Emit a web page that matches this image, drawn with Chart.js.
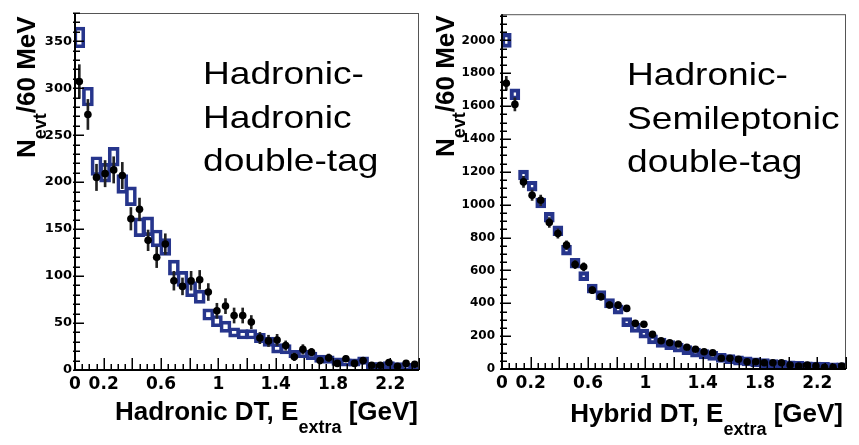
<!DOCTYPE html>
<html>
<head>
<meta charset="utf-8">
<script src="https://cdn.jsdelivr.net/npm/chart.js@4.4.1/dist/chart.umd.min.js"></script>
<style>
  html, body { margin: 0; padding: 0; background: #fff; }
  #page { position: relative; width: 859px; height: 445px; overflow: hidden; }
  canvas { position: absolute; top: 0; }
  .ann { position: absolute; font-family: 'Liberation Sans', Arial, sans-serif; font-size: 32px;
         line-height: 43.5px; white-space: pre; color: #000; transform: scaleX(1.16); transform-origin: 0 0; }
  .xt { position: absolute; font: bold 26px 'Liberation Sans', Arial, sans-serif; line-height: 26px;
        white-space: nowrap; color: #000; text-align: right; }
  .yt { position: absolute; font: bold 26px 'Liberation Sans', Arial, sans-serif; line-height: 26px;
        white-space: nowrap; color: #000; transform: rotate(-90deg); transform-origin: 0 0; }
  .sub { position: relative; font-size: 18px; }
</style>
</head>
<body>
<div id="page">
  <canvas id="hadChart" width="430" height="445" style="left:0"></canvas>
  <canvas id="hybChart" width="429" height="445" style="left:430px"></canvas>

  <div class="ann" style="left:203px; top:52px">Hadronic-
Hadronic
double-tag</div>
  <div class="ann" style="left:627px; top:53px">Hadronic-
Semileptonic
double-tag</div>

  <div class="xt" style="right:441px; top:398px">Hadronic DT, E<span class="sub" style="top:13px">extra</span> [GeV]</div>
  <div class="xt" style="right:16px; top:400px">Hybrid DT, E<span class="sub" style="top:13px">extra</span> [GeV]</div>

  <div class="yt" style="left:13px; top:158px">N<span class="sub" style="top:11px">evt</span>/60 MeV</div>
  <div class="yt" style="left:432px; top:157px">N<span class="sub" style="top:11px">evt</span>/60 MeV</div>
</div>

<script>
// E_extra bin centres (60 MeV bins)
const binCenters = [0.03, 0.09, 0.15, 0.21, 0.27, 0.33, 0.39, 0.45, 0.51, 0.57,
                    0.63, 0.69, 0.75, 0.81, 0.87, 0.93, 0.99, 1.05, 1.11, 1.17,
                    1.23, 1.29, 1.35, 1.41, 1.47, 1.53, 1.59, 1.65, 1.71, 1.77,
                    1.83, 1.89, 1.95, 2.01, 2.07, 2.13, 2.19, 2.25, 2.31, 2.37];

// hadronic-hadronic double tag
const hadData    = [307, 272, 205, 209, 213, 207, 161, 171, 138, 120, 134, 95, 89, 95, 96, 83, 63, 68, 58, 58,
                    51, 34, 31, 32, 26, 14, 22, 19, 10, 13, 7, 12, 7, 10, 5, 5, 8, 4, 7, 6];
const hadDataErr = [18, 16, 14, 14, 14, 14, 12, 12, 11, 11, 11, 10, 9, 10, 10, 9, 8, 8, 8, 8,
                    7, 6, 6, 6, 5, 4, 5, 4, 3, 4, 3, 3, 3, 3, 2, 2, 3, 2, 3, 2];
const hadMC      = [354, 291, 217, 210, 227, 198, 185, 152, 153, 140, 131, 109, 97, 86, 78, 59, 52, 46, 40, 38,
                    38, 34, 30, 23, 22, 17, 17, 15, 12, 11, 9, 8, 8, 10, 4, 4, 5, 4, 3, 3];
const hadMCErr   = [11, 10, 10, 10, 10, 10, 10, 10, 10, 9, 9, 8, 8, 8, 7, 6, 6, 6, 5, 5,
                    5, 5, 5, 5, 5, 4, 4, 4, 4, 4, 4, 4, 4, 4, 4, 4, 4, 4, 4, 4];

// hadronic-semileptonic (hybrid) double tag
const hybData    = [1740, 1611, 1139, 1058, 1027, 892, 825, 754, 636, 622, 480, 440, 390, 389, 369, 278, 272, 211, 172, 160,
                    152, 132, 120, 105, 99, 65, 65, 59, 44, 44, 38, 38, 38, 24, 18, 24, 18, 10, 10, 18];
const hybDataErr = [42, 40, 34, 32, 32, 30, 29, 27, 25, 25, 22, 21, 20, 20, 19, 17, 16, 15, 13, 13,
                    12, 11, 11, 10, 10, 8, 8, 8, 7, 7, 6, 6, 6, 5, 4, 5, 4, 3, 3, 4];
const hybMC      = [2000, 1673, 1181, 1113, 1010, 924, 842, 723, 644, 565, 489, 450, 400, 362, 285, 250, 215, 180, 160, 145,
                    130, 115, 100, 90, 80, 68, 60, 52, 46, 40, 35, 30, 26, 22, 19, 16, 14, 12, 10, 9];
const hybMCErr   = [43, 33, 30, 30, 30, 30, 30, 30, 30, 28, 28, 28, 28, 28, 28, 28, 28, 28, 28, 28,
                    28, 28, 28, 28, 28, 28, 28, 28, 28, 28, 28, 28, 28, 28, 28, 28, 28, 28, 28, 28];

// axis labels
const xTickLabels    = [0, 0.2, 0.6, 1, 1.4, 1.8, 2.2];
const hadYTickLabels = [0, 50, 100, 150, 200, 250, 300, 350];
const hybYTickLabels = [0, 200, 400, 600, 800, 1000, 1200, 1400, 1600, 1800, 2000];

const NAVY = '#26358c';

// ROOT-style frame: thick left/bottom axes, inward ticks, thin box
const rootFrame = {
  id: 'rootFrame',
  afterDatasetsDraw(chart, args, o) {
    const { ctx, chartArea: a, scales: { x, y } } = chart;
    ctx.save();
    ctx.strokeStyle = '#555';
    ctx.lineWidth = 1;
    ctx.strokeRect(a.left, a.top + 0.5, a.right - a.left - 0.5, a.bottom - a.top);

    ctx.strokeStyle = '#000';
    ctx.lineWidth = 1.5;
    // x ticks
    const nx = Math.round((x.max - x.min) / o.xMinor);
    for (let i = 0; i <= nx; i++) {
      const v = x.min + i * o.xMinor;
      const px = Math.round(x.getPixelForValue(v)) + 0.25;
      const len = (i % o.xPerMajor === 0) ? 12 : 6;
      ctx.beginPath(); ctx.moveTo(px, a.bottom); ctx.lineTo(px, a.bottom - len); ctx.stroke();
    }
    // y ticks
    const ny = Math.floor((y.max - y.min) / o.yMinor);
    for (let i = 0; i <= ny; i++) {
      const v = y.min + i * o.yMinor;
      const py = Math.round(y.getPixelForValue(v)) + 0.25;
      const len = (i % o.yPerMajor === 0) ? 9 : 5;
      ctx.beginPath(); ctx.moveTo(a.left - 2, py); ctx.lineTo(a.left + len, py); ctx.stroke();
    }
    // axis lines
    ctx.lineWidth = 2;
    ctx.beginPath();
    ctx.moveTo(a.left, a.top); ctx.lineTo(a.left, a.bottom); ctx.lineTo(a.right, a.bottom);
    ctx.stroke();
    ctx.restore();
  }
};

function makePanel(id, data, dataErr, mc, mcErr, cfg) {
  const pts  = data.map((v, i) => ({ x: binCenters[i], y: v }));
  const bars = data.map((v, i) => ({ x: binCenters[i], y: [v - dataErr[i], v + dataErr[i]] }));
  const box  = mc.map((v, i) => ({ x: binCenters[i], y: [v - mcErr[i], v + mcErr[i]] }));

  new Chart(document.getElementById(id), {
    type: 'bar',
    data: {
      datasets: [
        { type: 'bar', data: box, backgroundColor: 'rgba(255,255,255,0)', borderColor: NAVY,
          borderWidth: cfg.boxLine, borderSkipped: false, barThickness: cfg.boxWidth, grouped: false, order: 3 },
        { type: 'bar', data: bars, backgroundColor: '#222', borderWidth: 0,
          barThickness: 2, grouped: false, order: 2 },
        { type: 'scatter', data: pts, backgroundColor: '#000', borderWidth: 0,
          pointRadius: 3.8, order: 1 }
      ]
    },
    options: {
      responsive: false,
      animation: false,
      events: [],
      layout: { padding: { top: 13, right: cfg.padRight, left: 0, bottom: 0 } },
      plugins: {
        legend: { display: false },
        tooltip: { enabled: false },
        rootFrame: { xMinor: 0.05, xPerMajor: 4, yMinor: cfg.yMinor, yPerMajor: cfg.yPerMajor }
      },
      scales: {
        x: {
          type: 'linear', min: 0, max: 2.4, offset: false,
          grid: { display: false, drawTicks: false },
          border: { display: false },
          afterBuildTicks: ax => { ax.ticks = xTickLabels.map(v => ({ value: v })); },
          afterFit: ax => { ax.height = cfg.xHeight; },
          ticks: {
            padding: 4, color: '#000', maxRotation: 0, autoSkip: false,
            font: { family: "'DejaVu Sans'", size: 17, weight: 'bold' },
            callback: v => String(v)
          }
        },
        y: {
          min: 0, max: cfg.yMax,
          grid: { display: false, drawTicks: false },
          border: { display: false },
          afterBuildTicks: ax => { ax.ticks = cfg.yTicks.map(v => ({ value: v })); },
          afterFit: ax => { ax.width = cfg.yWidth; },
          ticks: {
            padding: cfg.yPad, color: '#000', autoSkip: false,
            font: { family: "'DejaVu Sans'", size: cfg.yFont, weight: 'bold' },
            callback: v => String(v)
          }
        }
      }
    },
    plugins: [rootFrame]
  });
}

makePanel('hadChart', hadData, hadDataErr, hadMC, hadMCErr, {
  yMax: 380, yTicks: hadYTickLabels, yMinor: 10, yPerMajor: 5,
  yWidth: 75, xHeight: 75, padRight: 11, yPad: 3, yFont: 13, boxWidth: 11, boxLine: 3
});
makePanel('hybChart', hybData, hybDataErr, hybMC, hybMCErr, {
  yMax: 2160, yTicks: hybYTickLabels, yMinor: 50, yPerMajor: 4,
  yWidth: 72, xHeight: 76, padRight: 13, yPad: 7, yFont: 12, boxWidth: 10, boxLine: 3.5
});
</script>
</body>
</html>
